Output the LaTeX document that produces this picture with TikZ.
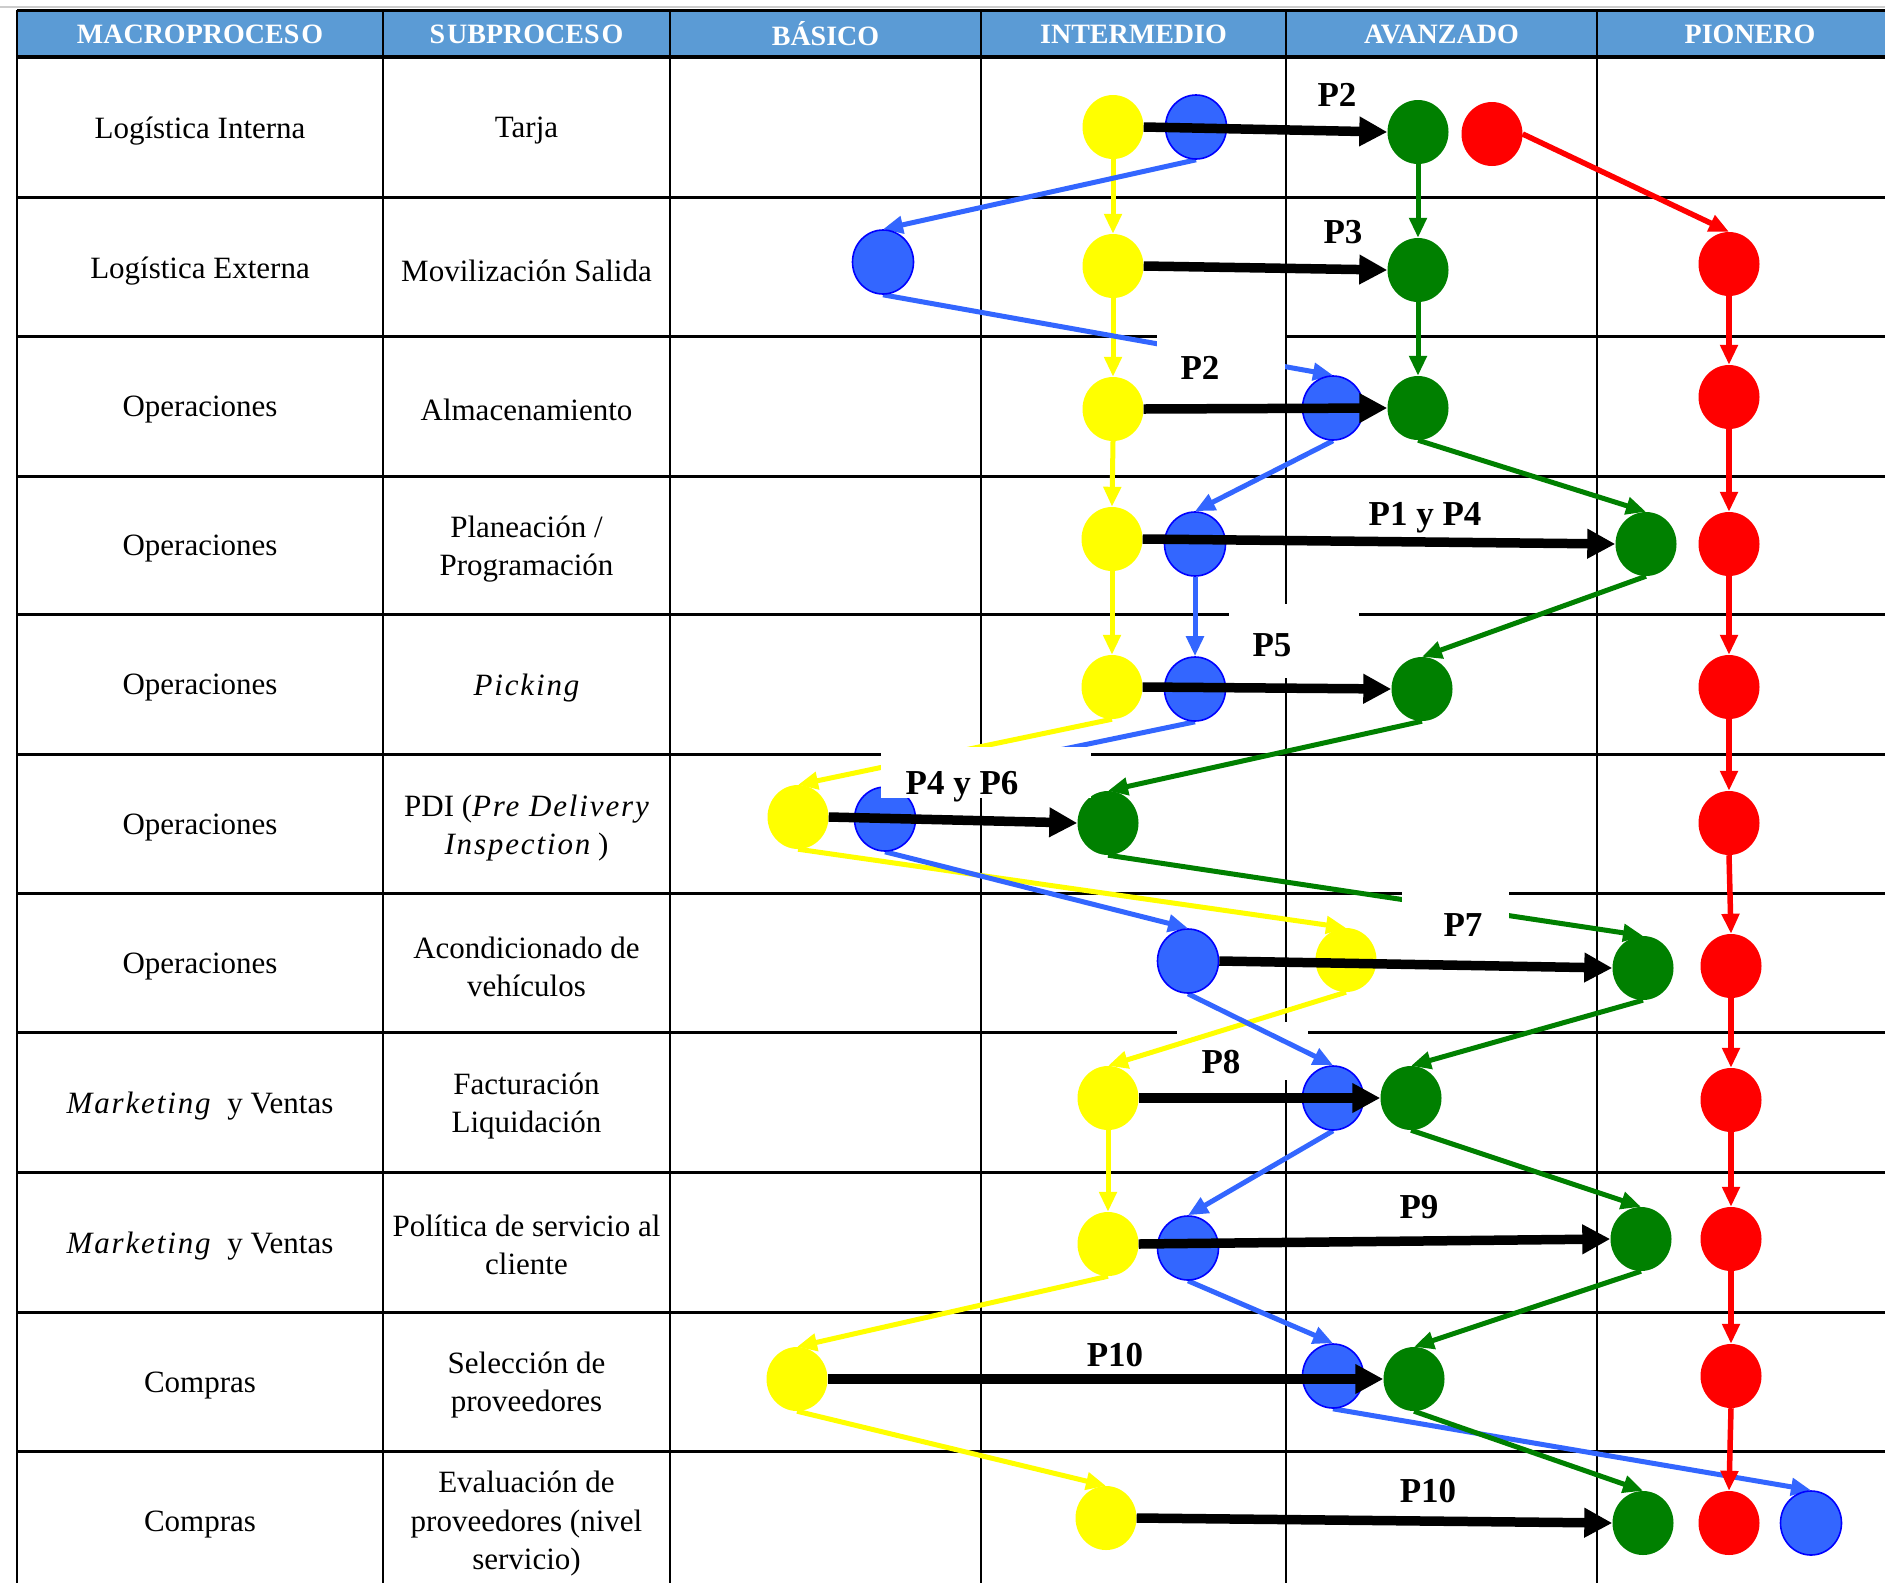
\documentclass[tikz,border=0pt]{standalone}
\usepackage{fontspec}
\setmainfont{Liberation Serif}
\usetikzlibrary{arrows.meta,shapes.geometric}
\pgfdeclarelayer{grid}
\pgfdeclarelayer{links}
\pgfdeclarelayer{front}
\pgfsetlayers{grid,links,main,front}

\definecolor{hdr}{RGB}{91,155,213}
\definecolor{dotY}{RGB}{255,255,0}
\definecolor{dotB}{RGB}{51,102,255}
\definecolor{dotBedge}{RGB}{0,0,255}
\definecolor{dotG}{RGB}{0,128,0}
\definecolor{dotR}{RGB}{255,0,0}

\newcommand\spit[1]{{\itshape\addfontfeature{LetterSpace=6}#1}}

\begin{document}
\begin{tikzpicture}[x=1pt,y=-1pt,
  dot/.style={ellipse,minimum width=61pt,minimum height=64pt,inner sep=0pt},
  ydot/.style={dot,fill=dotY},
  bdot/.style={dot,fill=dotB,draw=dotBedge,line width=1.6pt},
  gdot/.style={dot,fill=dotG},
  rdot/.style={dot,fill=dotR},
  tipc/.style={-{Triangle[length=20pt,width=17pt]}},
  ylink/.style={draw=dotY,line width=5pt,tipc},
  blink/.style={draw=dotB,line width=5pt,tipc},
  glink/.style={draw=dotG,line width=5pt,tipc},
  rlink/.style={draw=dotR,line width=5.5pt,tipc},
  flow/.style={draw=black,line width=9.5pt,-{Triangle[length=28pt,width=28pt]}},
  cell/.style={font=\fontsize{31}{38.5}\selectfont,align=center,inner sep=0pt},
  head/.style={font=\fontsize{28}{30}\selectfont\bfseries,text=white,inner sep=0pt},
  tag/.style={font=\fontsize{35}{40}\selectfont\bfseries,inner sep=0pt},
  hline/.style={line width=3pt},
  vline/.style={line width=2.7pt}
]
\useasboundingbox (0,0) rectangle (1885,1583);

% ---------- table ----------
\begin{pgfonlayer}{grid}
  \fill[white] (0,0) rectangle (1885,1583);
  \draw[line width=1.5pt,black!20] (0,7) -- (1885,7);
  \fill[hdr] (17,10) rectangle (1885,57);
  \draw[hline] (17,10) -- (1885,10);
  \draw[line width=4pt] (17,57) -- (1885,57);
  \foreach \yy in {197,336.5,476,614,754,893,1032,1172,1312,1451}
    \draw[hline] (17,\yy) -- (1885,\yy);
  \foreach \xx in {17,383,670,981,1286,1597}
    \draw[vline] (\xx,10) -- (\xx,1583);
  % white patch behind the P8 label
  \fill[white] (1177,1022) rectangle (1308,1080);
\end{pgfonlayer}

% header
\node[head] (h1) at (200,34) {MACROPROCES\kern2pt O};
\node[head] (h2) at (526.5,34) {S\kern2pt UBPROCES\kern2pt O};
\node[head] (h3) at (825.5,34) {BÁSICO};
\node[head] (h4) at (1133.5,34) {INTERMEDIO};
\node[head] (h5) at (1441.5,34) {AVANZADO};
\node[head] (h6) at (1750,34) {PIONERO};

% first two columns
\node[cell] (m1) at (200,131) {Logística Interna};
\node[cell] (s1) at (526.5,131) {Tarja};
\node[cell] (m2) at (200,271) {Logística Externa};
\node[cell] (s2) at (526.5,271) {Movilización Salida};
\node[cell] (m3) at (200,410) {Operaciones};
\node[cell] (s3) at (526.5,410) {Almacenamiento};
\node[cell] (m4) at (200,549) {Operaciones};
\node[cell] (s4) at (526.5,549) {Planeación /\\Programación};
\node[cell] (m5) at (200,688) {Operaciones};
\node[cell] (s5) at (526.5,688) {\spit{Picking}};
\node[cell] (m6) at (200,828) {Operaciones};
\node[cell] (s6) at (526.5,828) {PDI (\spit{Pre Delivery}\\\spit{Inspection} )};
\node[cell] (m7) at (200,967) {Operaciones};
\node[cell] (s7) at (526.5,967) {Acondicionado de\\vehículos};
\node[cell] (m8) at (200,1106) {\spit{Marketing}\hspace{9pt} y Ventas};
\node[cell] (s8) at (526.5,1106) {Facturación\\Liquidación};
\node[cell] (m9) at (200,1246) {\spit{Marketing}\hspace{9pt} y Ventas};
\node[cell] (s9) at (526.5,1245) {Política de servicio al\\cliente};
\node[cell] (m10) at (200,1386) {Compras};
\node[cell] (s10) at (526.5,1385) {Selección de\\proveedores};
\node[cell] (m11) at (200,1525) {Compras};
\node[cell] (s11) at (526.5,1524) {Evaluación de\\proveedores (nivel\\servicio)};

% ---------- level dots ----------
\node[ydot] (Y1) at (1113,127) {};
\node[bdot] (B1) at (1196,127) {};
\node[gdot] (G1) at (1418,132) {};
\node[rdot] (R1) at (1492,134) {};

\node[bdot] (B2) at (883,262) {};
\node[ydot] (Y2) at (1113,266) {};
\node[gdot] (G2) at (1418,270) {};
\node[rdot] (R2) at (1729,264) {};

\node[ydot] (Y3) at (1113,409) {};
\node[bdot] (B3) at (1333,408) {};
\node[gdot] (G3) at (1418,408) {};
\node[rdot] (R3) at (1729,397) {};

\node[ydot] (Y4) at (1112,539) {};
\node[bdot] (B4) at (1195,544) {};
\node[gdot] (G4) at (1646,544) {};
\node[rdot] (R4) at (1729,544) {};

\node[ydot] (Y5) at (1112,687) {};
\node[bdot] (B5) at (1195,689) {};
\node[gdot] (G5) at (1422,689) {};
\node[rdot] (R5) at (1729,687) {};

\node[ydot] (Y6) at (798,817) {};
\node[bdot] (B6) at (885,819) {};
\node[gdot] (G6) at (1108,823) {};
\node[rdot] (R6) at (1729,823) {};

\node[bdot] (B7) at (1188,961) {};
\node[ydot] (Y7) at (1346,960) {};
\node[gdot] (G7) at (1643,968) {};
\node[rdot] (R7) at (1731,966) {};

\node[ydot] (Y8) at (1108,1098) {};
\node[bdot] (B8) at (1333,1098) {};
\node[gdot] (G8) at (1411,1098) {};
\node[rdot] (R8) at (1731,1100) {};

\node[ydot] (Y9) at (1108,1244) {};
\node[bdot] (B9) at (1188,1248) {};
\node[gdot] (G9) at (1641,1239) {};
\node[rdot] (R9) at (1731,1239) {};

\node[ydot] (Y10) at (797,1379) {};
\node[bdot] (B10) at (1333,1376) {};
\node[gdot] (G10) at (1414,1379) {};
\node[rdot] (R10) at (1731,1376) {};

\node[ydot] (Y11) at (1106,1518) {};
\node[gdot] (G11) at (1643,1523) {};
\node[rdot] (R11) at (1729,1523) {};
\node[bdot] (B11) at (1811,1523) {};

% ---------- level paths ----------
\begin{pgfonlayer}{links}
  \foreach \a/\b in {1/2,2/3,3/4,4/5,5/6,6/7,7/8,8/9,9/10,10/11}{
    \draw[ylink] (Y\a.south) -- (Y\b.north);
    \draw[blink] (B\a.south) -- (B\b.north);
    \draw[glink] (G\a.south) -- (G\b.north);
  }
  \draw[rlink] (R1.east) -- (R2.north);
  \foreach \a/\b in {2/3,3/4,4/5,5/6,6/7,7/8,8/9,9/10,10/11}
    \draw[rlink] (R\a.south) -- (R\b.north);
\end{pgfonlayer}

% ---------- transitions and labels ----------
\begin{pgfonlayer}{front}
  \draw[flow] (Y1.east) -- (G1.west);
  \draw[flow] (Y2.east) -- (G2.west);
  \draw[flow] (Y3.east) -- (G3.west);
  \draw[flow] (Y4.east) -- (G4.west);
  \draw[flow] (Y5.east) -- (G5.west);
  \draw[flow] (Y6.east) -- (G6.west);
  \draw[flow] (B7.east) -- (G7.west);
  \draw[flow] (Y8.east) -- (G8.west);
  \draw[flow] (Y9.east) -- (G9.west);
  \draw[flow] (Y10.east) -- (G10.west);
  \draw[flow] (Y11.east) -- (G11.west);

  \fill[white] (1157,333) rectangle (1285,395);
  \fill[white] (1229,604) rectangle (1359,678);
  \fill[white] (881,747) rectangle (1091,798);
  \fill[white] (1402,885) rectangle (1509,945);

  \node[tag] (t1) at (1337,95) {P2};
  \node[tag] (t2) at (1343,232) {P3};
  \node[tag] (t3) at (1200,368) {P2};
  \node[tag,anchor=base] (t4) at (1425,525) {P1 y P4};
  \node[tag] (t5) at (1272,645) {P5};
  \node[tag,anchor=base] (t6) at (962,794) {P4 y P6};
  \node[tag] (t7) at (1463,925) {P7};
  \node[tag] (t8) at (1221,1062) {P8};
  \node[tag] (t9) at (1419,1207) {P9};
  \node[tag] (t10) at (1115,1355) {P10};
  \node[tag] (t11) at (1428,1491) {P10};
\end{pgfonlayer}
\end{tikzpicture}
\end{document}
